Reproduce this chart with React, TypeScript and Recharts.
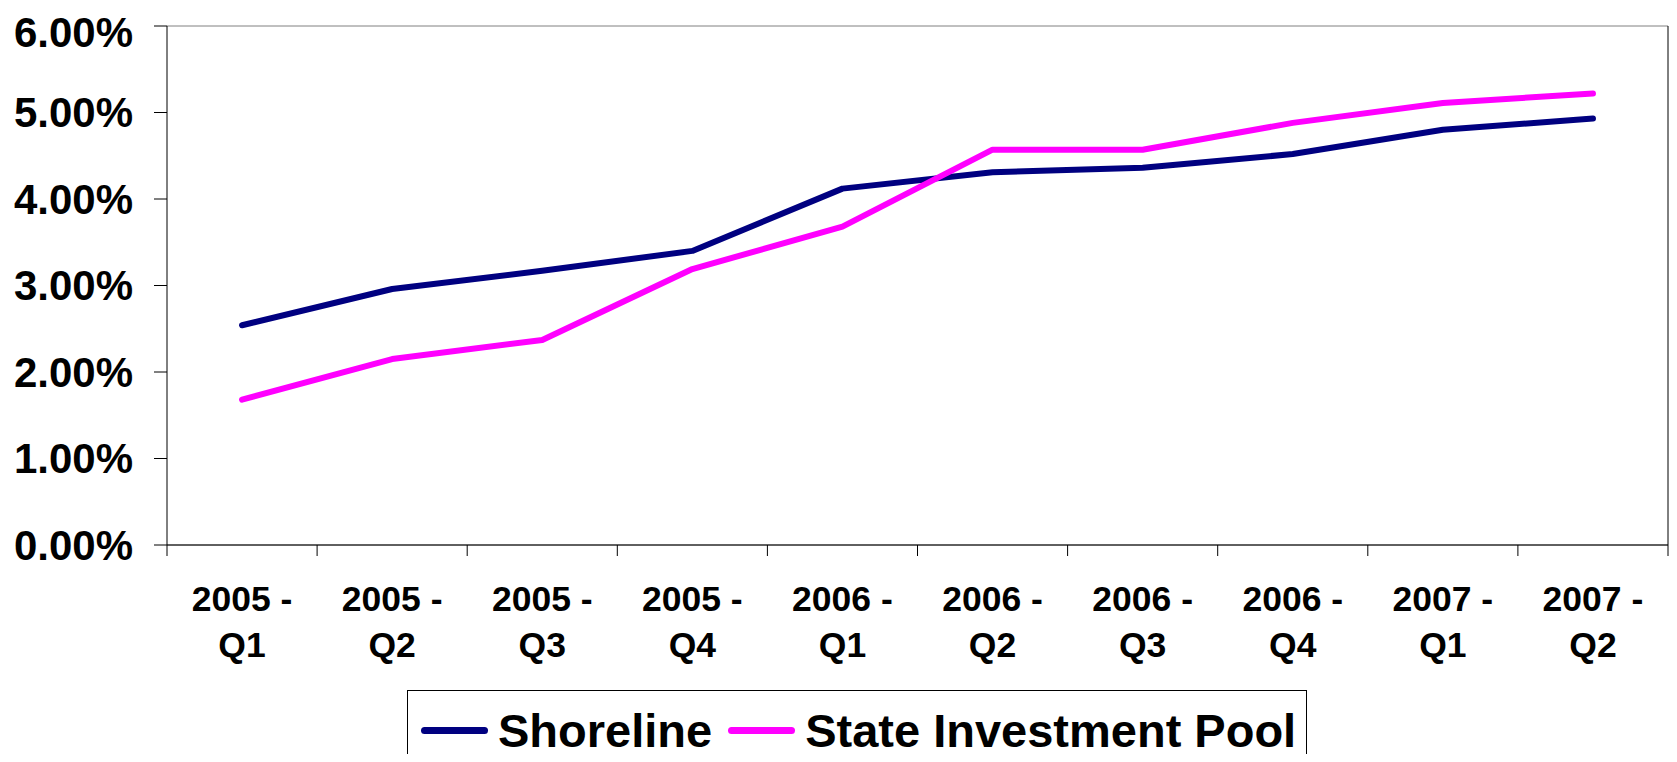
import React from 'react';
import { LineChart, Line, XAxis, YAxis, CartesianGrid } from 'recharts';

const quarters = [
  '2005 - Q1', '2005 - Q2', '2005 - Q3', '2005 - Q4', '2006 - Q1',
  '2006 - Q2', '2006 - Q3', '2006 - Q4', '2007 - Q1', '2007 - Q2',
];
const shoreline = [2.54, 2.96, 3.17, 3.4, 4.12, 4.31, 4.36, 4.52, 4.8, 4.93];
const statePool = [1.68, 2.15, 2.37, 3.19, 3.68, 4.57, 4.57, 4.88, 5.11, 5.22];
const yTicks = [0, 1, 2, 3, 4, 5, 6];

const series = [
  { key: 'shoreline', name: 'Shoreline', color: '#000080' },
  { key: 'statePool', name: 'State Investment Pool', color: '#FF00FF' },
];

const data = quarters.map((q, i) => ({
  quarter: q,
  shoreline: shoreline[i],
  statePool: statePool[i],
}));

const FONT = '"Liberation Sans", Arial, sans-serif';
const WIDTH = 1661;
const HEIGHT = 754;
const LEFT = 159;
const RIGHT_AXIS = 1;
const BAND = (WIDTH - LEFT - RIGHT_AXIS) / quarters.length;

// two-line category label plus tick marks on the category boundaries
const QuarterTick = (props: any) => {
  const { x, y, payload, index } = props;
  const [year, q] = String(payload.value).split(' - ');
  const isLast = index === quarters.length - 1;
  return (
    <g>
      <line x1={x - BAND / 2} x2={x - BAND / 2} y1={y} y2={y + 11} stroke="#000" />
      {isLast && <line x1={x + BAND / 2} x2={x + BAND / 2} y1={y} y2={y + 11} stroke="#000" />}
      <text
        x={x}
        y={y}
        textAnchor="middle"
        fontFamily={FONT}
        fontWeight="bold"
        fontSize={35.5}
        fill="#000"
      >
        <tspan x={x} dy={66}>{year} -</tspan>
        <tspan x={x} dy={46}>{q}</tspan>
      </text>
    </g>
  );
};

export default function App() {
  return (
    <div
      style={{
        position: 'relative',
        width: WIDTH,
        height: HEIGHT,
        overflow: 'hidden',
        marginBottom: -8,
        fontFamily: FONT,
      }}
    >
      <LineChart
        width={WIDTH}
        height={HEIGHT}
        data={data}
        margin={{ top: 18, right: 0, left: 0, bottom: 97 }}
      >
        <CartesianGrid vertical={false} stroke="#808080" strokeWidth={1} />
        <XAxis
          dataKey="quarter"
          scale="band"
          interval={0}
          height={120}
          tickSize={0}
          tickMargin={0}
          tickLine={false}
          axisLine={{ stroke: '#000' }}
          tick={<QuarterTick />}
        />
        <YAxis
          yAxisId="left"
          domain={[0, 6]}
          ticks={yTicks}
          width={LEFT}
          tickSize={13}
          tickMargin={21}
          axisLine={{ stroke: '#000' }}
          tickLine={{ stroke: '#000' }}
          tickFormatter={(v: number) => `${v.toFixed(2)}%`}
          tick={{ fontSize: 42, fontWeight: 'bold', fill: '#000', fontFamily: FONT }}
        />
        <YAxis
          yAxisId="right"
          orientation="right"
          domain={[0, 6]}
          width={RIGHT_AXIS}
          tick={false}
          tickLine={false}
          axisLine={{ stroke: '#000' }}
        />
        {series.map((s) => (
          <Line
            key={s.key}
            yAxisId="left"
            type="linear"
            dataKey={s.key}
            name={s.name}
            stroke={s.color}
            strokeWidth={6}
            strokeLinecap="round"
            strokeLinejoin="round"
            dot={false}
            activeDot={false}
            isAnimationActive={false}
          />
        ))}
      </LineChart>

      {/* legend box */}
      <div
        style={{
          position: 'absolute',
          left: 399,
          top: 682,
          width: 900,
          height: 100,
          border: '1px solid #000',
          boxSizing: 'border-box',
          background: '#fff',
        }}
      >
        <div style={{ display: 'flex', alignItems: 'center', height: 78, paddingLeft: 13 }}>
          {series.map((s) => (
            <div key={s.key} style={{ display: 'flex', alignItems: 'center', marginRight: 16 }}>
              <div style={{ width: 67, height: 7, borderRadius: 4, background: s.color }} />
              <span
                style={{
                  marginLeft: 10,
                  fontSize: 47,
                  fontWeight: 'bold',
                  color: '#000',
                  whiteSpace: 'nowrap',
                }}
              >
                {s.name}
              </span>
            </div>
          ))}
        </div>
      </div>
    </div>
  );
}
